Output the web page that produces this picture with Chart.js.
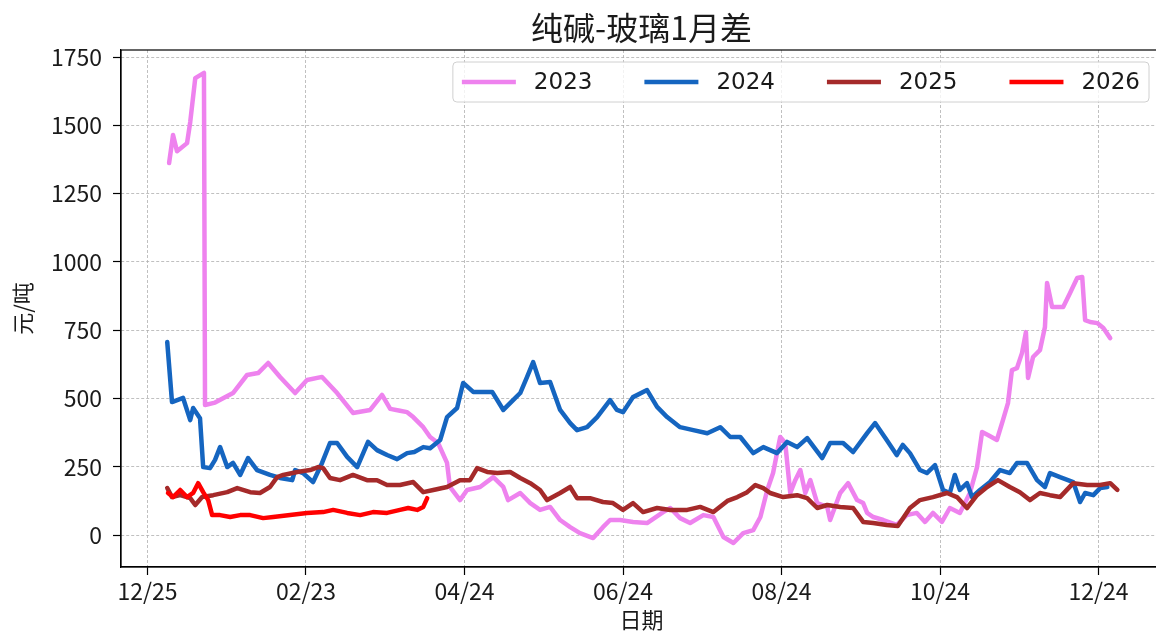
<!DOCTYPE html>
<html>
<head>
<meta charset="utf-8">
<script src="https://cdn.jsdelivr.net/npm/chart.js@4.4.1/dist/chart.umd.min.js"></script>
<style>
  html, body { margin: 0; padding: 0; background: #fff; overflow: hidden; }
  #wrap { width: 1175px; height: 633px; }
</style>
</head>
<body>
<div id="wrap"><canvas id="spreadChart" width="1175" height="633"></canvas></div>
<script>
  // x values are days counted from the 12/25 tick
  const xTickDays = [0, 60, 120, 180, 240, 300, 360];
  const xTickLabels = ['12/25', '02/23', '04/24', '06/24', '08/24', '10/24', '12/24'];
  const yTicks = [0, 250, 500, 750, 1000, 1250, 1500, 1750];

  const seriesNames = ['2023', '2024', '2025', '2026'];
  const seriesColors = ['#ee82ee', '#1565c0', '#a52a2a', '#ff0000'];

  // [day, 元/吨]
  const s2023 = [[8.2,1362],[9.7,1465],[11.2,1405],[15,1435],[16.2,1512],[18.1,1673],[21.4,1692],[21.8,476],
    [25.6,485],[32.4,520],[37.7,586],[41.9,593],[45.7,630],[50.2,579],[55.9,520],[60.4,568],[66.1,579],
    [71.8,520],[77.8,447],[84.3,458],[88.8,513],[91.9,462],[95.6,455],[98.3,450],[100.6,432],[104.4,395],
    [107,359],[110,337],[113.4,264],[114.5,176],[118.3,128],[121,165],[125.9,176],[130.9,212],[134.7,176],
    [136.5,128],[141.1,154],[144.9,117],[148.6,92],[152.4,103],[156.2,55],[160,29],[163.7,7],[168.7,-11],
    [172.4,29],[175.1,55],[178.9,55],[183.8,48],[189.1,44],[195.2,84],[197.9,99],[201.6,62],[205.4,44],
    [210.4,73],[214.2,66],[218,-7],[221.8,-29],[225.5,7],[229.3,18],[232,66],[234.6,165],[236.8,227],
    [239.5,359],[241.4,337],[243.3,154],[245.2,201],[247.1,238],[249,154],[250.9,201],[253.5,117],
    [257.3,103],[258.4,55],[262.2,154],[265.2,190],[268.6,128],[270.9,117],[272.4,81],[274.7,66],
    [278.5,55],[283.6,37],[287.4,73],[291.2,81],[294.3,48],[297.3,81],[300.7,48],[303.7,99],[307.5,81],
    [311.3,154],[314,249],[315.9,377],[318.1,366],[321.5,348],[323.8,421],[325.7,483],[327.2,604],
    [329.1,611],[331,666],[332.5,743],[333.3,575],[335.2,652],[337.8,677],[339.7,762],[340.5,923],
    [342.4,835],[346.6,835],[349.2,886],[351.9,941],[353.8,945],[354.9,787],[356.8,780],[359.5,776],
    [361.8,758],[364.4,721]];

  const s2024 = [[7.5,707],[9.3,487],[13.5,502],[16.2,421],[17.3,465],[19.9,428],[21.1,249],[23.7,245],
    [25.6,275],[27.5,322],[30.2,249],[32.4,264],[35.1,220],[38.1,282],[41.5,238],[46.4,220],[50.2,209],
    [54.8,201],[55.9,238],[58.9,227],[62.7,194],[66.1,264],[69.1,337],[71.8,337],[75.6,286],[79.4,249],
    [83.5,341],[86.9,311],[90.7,293],[94.5,278],[98.3,300],[101,304],[104.4,322],[107,318],[110.8,348],
    [113.4,432],[117.2,465],[119.5,557],[123.3,524],[127.1,524],[130.5,524],[134.7,458],[138.4,494],
    [141.1,520],[143.7,579],[146,633],[148.6,557],[152.4,560],[156.2,458],[160,410],[162.6,384],
    [166.4,395],[170.2,432],[175.1,494],[177.7,458],[180,450],[183.8,505],[189.1,531],[192.9,469],
    [196.7,432],[201.6,395],[206.6,384],[211.9,373],[216.8,395],[220.6,359],[224.4,359],[229.3,300],
    [233.1,322],[238.3,300],[242.1,341],[245.9,322],[249.7,355],[255.4,282],[258.4,337],[263.3,337],
    [267.1,304],[272.4,373],[275.4,410],[279.8,348],[283.6,293],[285.9,330],[288.6,300],[292.4,238],
    [295,227],[298.1,256],[301.1,165],[303.7,154],[305.6,220],[307.5,165],[310.2,190],[312.1,139],
    [315.1,165],[318.9,194],[322.7,238],[326.4,227],[329.1,264],[332.9,264],[336.7,201],[339.7,176],
    [341.6,227],[345.4,212],[350.4,194],[353,121],[354.9,154],[358,146],[360.6,172],[363.3,176]];

  const s2025 = [[7.5,172],[9.3,139],[12.4,146],[16.2,135],[18.1,110],[20.7,139],[24.9,146],[30.2,157],
    [34,172],[38.9,157],[42.6,154],[46.4,176],[49.1,212],[51.4,220],[56.7,231],[61.6,238],[64.6,249],
    [66.5,245],[69.1,209],[72.9,201],[77.8,220],[83.1,201],[86.9,201],[90.7,183],[95.6,183],[100.6,194],
    [104.4,157],[108.2,165],[113.4,176],[118.3,201],[122.1,201],[124.8,245],[128.6,231],[132.4,227],
    [137.3,231],[141.1,209],[144.9,190],[148.6,165],[151.3,128],[156.2,154],[160,176],[162.6,135],
    [167.5,135],[172.4,121],[176.2,117],[180,92],[183.8,117],[187.6,84],[192.9,99],[197.9,92],[204.3,92],
    [209.2,103],[214.2,84],[219.5,125],[223.3,139],[227,157],[230.1,183],[233.1,172],[235.7,154],
    [240.6,139],[245.9,146],[249.7,135],[253.5,99],[257.3,110],[262.2,103],[267.1,99],[270.9,48],
    [274.7,44],[279.8,37],[284,33],[288.6,99],[292.4,128],[297.3,139],[302.6,154],[306.4,139],[310.2,99],
    [314,146],[317.8,176],[321.9,201],[326.4,176],[330.2,157],[334,128],[337.8,154],[341.6,146],
    [345.4,139],[350.4,190],[355.7,183],[360.6,183],[364.4,190],[367.1,165]];

  const s2026 = [[7.8,154],[9.7,139],[12.4,165],[15,139],[17.3,154],[19.2,190],[21.1,157],[23,128],
    [24.5,73],[27.5,73],[31.3,66],[35.1,73],[38.9,73],[43.8,62],[47.6,66],[54,73],[60.4,81],[66.5,84],
    [70.3,92],[75.6,81],[80.5,73],[85.4,84],[90.7,81],[95.6,92],[98.7,99],[102.1,92],[104.4,103],
    [105.9,135]];

  const seriesData = [s2023, s2024, s2025, s2026];

  const cjk = 'Noto Sans CJK SC';
  const textColor = '#1a1a1a';

  // black frame round the plot and a matplotlib-like legend box
  const frameAndLegend = {
    id: 'frameAndLegend',
    afterDraw(chart) {
      const { ctx, chartArea: a } = chart;
      ctx.save();
      ctx.strokeStyle = '#000';
      ctx.lineWidth = 1.2;
      ctx.strokeRect(a.left, a.top, a.right - a.left, a.bottom - a.top);

      ctx.font = '23px "DejaVu Sans"';
      const lineLen = 54, gap = 18, itemGap = 52, pad = 9, boxH = 40;
      const sets = chart.data.datasets;
      const widths = sets.map(d => ctx.measureText(d.label).width);
      const total = pad * 2 + widths.reduce((s, w) => s + lineLen + gap + w, 0) + itemGap * (sets.length - 1);
      const right = a.right - 13;
      const top = a.top + 12;
      const left = right - total;
      ctx.beginPath();
      ctx.roundRect(left, top, total, boxH, 4);
      ctx.fillStyle = 'rgba(255,255,255,0.8)';
      ctx.fill();
      ctx.strokeStyle = '#d0d0d0';
      ctx.lineWidth = 1;
      ctx.stroke();

      const cy = top + boxH / 2;
      let x = left + pad;
      ctx.textBaseline = 'middle';
      ctx.textAlign = 'left';
      sets.forEach((d, i) => {
        ctx.beginPath();
        ctx.strokeStyle = d.borderColor;
        ctx.lineWidth = d.borderWidth;
        ctx.moveTo(x, cy);
        ctx.lineTo(x + lineLen, cy);
        ctx.stroke();
        ctx.fillStyle = textColor;
        ctx.fillText(d.label, x + lineLen + gap, cy + 1);
        x += lineLen + gap + widths[i] + itemGap;
      });
      ctx.restore();
    }
  };

  const ctx = document.getElementById('spreadChart').getContext('2d');

  new Chart(ctx, {
    type: 'line',
    data: {
      datasets: seriesNames.map((name, i) => ({
        label: name,
        data: seriesData[i].map(p => ({ x: p[0], y: p[1] })),
        borderColor: seriesColors[i],
        backgroundColor: seriesColors[i],
        borderWidth: 4.5,
        borderJoinStyle: 'round',
        borderCapStyle: 'round',
        pointRadius: 0,
        tension: 0,
        order: seriesNames.length - i
      }))
    },
    options: {
      responsive: false,
      animation: false,
      devicePixelRatio: 1,
      layout: { padding: { left: 0, right: 13, top: 0, bottom: 0 } },
      plugins: {
        legend: { display: false },
        tooltip: { enabled: false },
        title: {
          display: true,
          fullSize: false,
          text: '纯碱-玻璃1月差',
          color: textColor,
          font: { family: cjk, size: 32, weight: 'normal' },
          padding: { top: 8.8, bottom: 2.8 }
        }
      },
      scales: {
        x: {
          type: 'linear',
          min: -10,
          max: 384,
          afterBuildTicks: s => { s.ticks = xTickDays.map(v => ({ value: v })); },
          afterFit: s => { s.height = 66; },
          ticks: {
            callback: v => xTickLabels[xTickDays.indexOf(v)],
            color: textColor,
            font: { family: cjk, size: 23 },
            padding: 2,
            maxRotation: 0,
            autoSkip: false
          },
          grid: { color: '#b0b0b0', lineWidth: 0.8, tickColor: '#000', tickLength: 8, tickWidth: 1.2, tickBorderDash: [] },
          border: { display: true, color: '#000', width: 1.2, dash: [3, 2] },
          title: { display: true, text: '日期', color: textColor, font: { family: cjk, size: 22 }, padding: { top: 0, bottom: 0 } }
        },
        y: {
          min: -117,
          max: 1776,
          afterBuildTicks: s => { s.ticks = yTicks.map(v => ({ value: v })); },
          afterFit: s => { s.width = 121; },
          ticks: {
            callback: v => String(v),
            color: textColor,
            font: { family: cjk, size: 23 },
            padding: 11
          },
          grid: { color: '#b0b0b0', lineWidth: 0.8, tickColor: '#000', tickLength: 8, tickWidth: 1.2, tickBorderDash: [] },
          border: { display: true, color: '#000', width: 1.2, dash: [3, 2] },
          title: { display: true, text: '元/吨', color: textColor, font: { family: cjk, size: 22 }, padding: { top: 9, bottom: 0 } }
        }
      }
    },
    plugins: [frameAndLegend]
  });
</script>
</body>
</html>
